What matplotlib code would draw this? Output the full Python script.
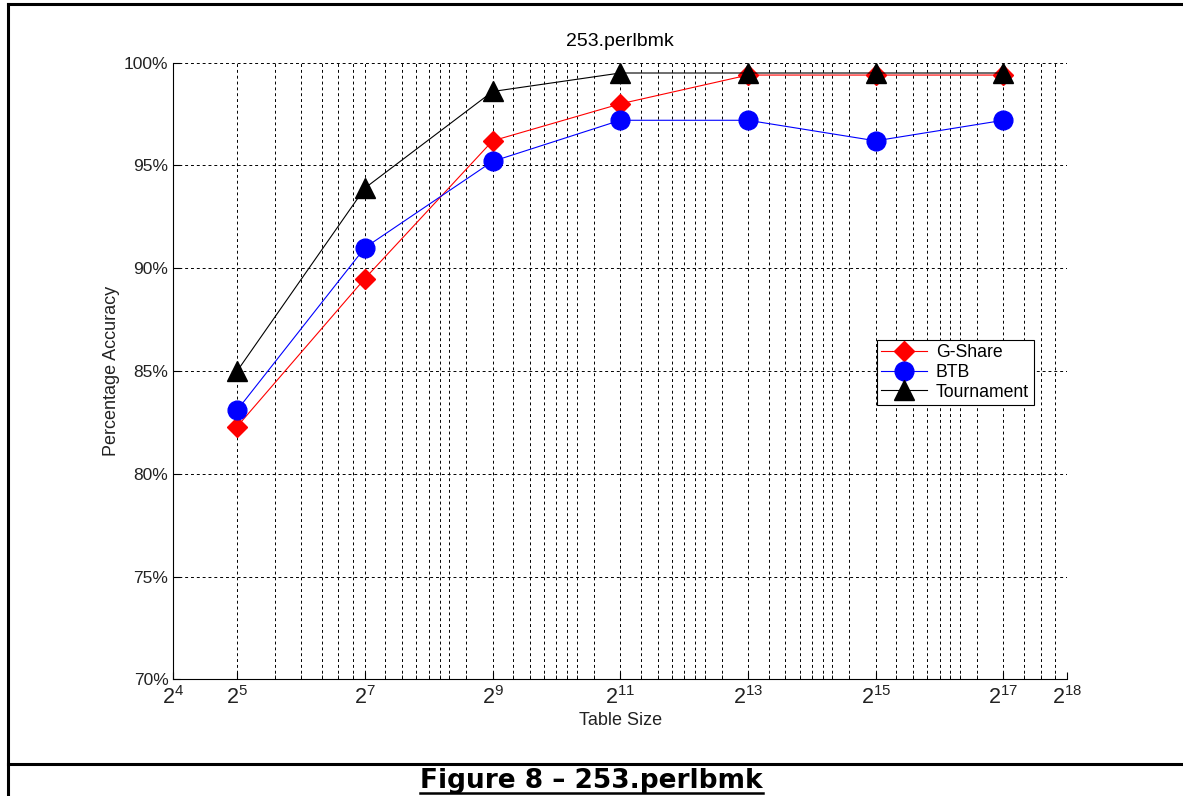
import matplotlib
matplotlib.use('Agg')
import matplotlib.pyplot as plt
from matplotlib.lines import Line2D

plt.rcParams['font.family'] = ['Liberation Sans', 'DejaVu Sans']
plt.rcParams['mathtext.fontset'] = 'custom'
plt.rcParams['mathtext.rm'] = 'Liberation Sans'
plt.rcParams['mathtext.it'] = 'Liberation Sans'

# data
exponents = [5, 7, 9, 11, 13, 15, 17]
table_size = [2 ** e for e in exponents]
gshare = [82.3, 89.5, 96.2, 98.0, 99.4, 99.4, 99.4]
btb = [83.1, 91.0, 95.2, 97.2, 97.2, 96.2, 97.2]
tournament = [85.0, 93.9, 98.6, 99.5, 99.5, 99.5, 99.5]

tick_exp = [4, 5, 7, 9, 11, 13, 15, 17, 18]
y_ticks = [70, 75, 80, 85, 90, 95, 100]

fig = plt.figure(figsize=(11.83, 7.96), dpi=100)
ax = fig.add_axes([0.1465, 0.1466, 0.9022 - 0.1465, 0.9212 - 0.1466])

ax.plot(table_size, gshare, color='red', lw=0.8, marker='D', ms=10, label='G-Share')
ax.plot(table_size, btb, color='blue', lw=0.8, marker='o', ms=13.5, label='BTB')
ax.plot(table_size, tournament, color='black', lw=0.8, marker='^', ms=14, label='Tournament')

ax.set_xscale('log')
ax.set_xlim(2 ** 4, 2 ** 18)
ax.set_ylim(70, 100)

# minor grid positions as MATLAB drew them (in units of 2^4)
first = [2, 3, 4, 5, 6, 7]
period = [1, 1.25, 1.5, 1.75, 2, 2.25, 2.5, 3, 4, 5, 6, 7, 8, 9, 10, 12]
units = first + [8 * 16 ** k * m for k in range(3) for m in period]
minor = [16 * u for u in units if 16 * u < 2 ** 18]

ax.set_xticks([2 ** e for e in tick_exp])
ax.set_xticklabels(['$2^{%d}$' % e for e in tick_exp], fontsize=15.5)
ax.set_xticks(minor, minor=True)
ax.set_xticklabels([], minor=True)
ax.set_yticks(y_ticks)
ax.set_yticklabels(['%d%%' % v for v in y_ticks], fontsize=12.5)

gs = dict(color='black', linestyle=(0, (3, 3)), linewidth=0.7)
ax.grid(True, which='major', **gs)
ax.grid(True, which='minor', axis='x', **gs)
ax.tick_params(which='both', direction='in', colors='black', labelcolor='#222222')
ax.tick_params(which='major', length=5)
ax.tick_params(which='minor', length=3)
ax.tick_params(axis='x', pad=5)
ax.spines['top'].set_visible(False)
ax.spines['right'].set_visible(False)

ax.set_title('253.perlbmk', fontsize=14, pad=12)
ax.set_xlabel('Table Size', fontsize=13, labelpad=2, color='#222222')
ax.set_ylabel('Percentage Accuracy', fontsize=13, labelpad=3, color='#222222')

leg = ax.legend(loc='lower left', bbox_to_anchor=(0.787, 0.445), fontsize=12.7,
                fancybox=False, framealpha=1, edgecolor='black',
                borderpad=0.25, labelspacing=0.15, handlelength=2.6, handletextpad=0.5,
                borderaxespad=0)
leg.get_frame().set_linewidth(0.8)

# page frame and caption cell
W, H = 1183, 796
def px_line(x0, y0, x1, y1, lw=2.2):
    fig.add_artist(Line2D([x0 / W, x1 / W], [1 - y0 / H, 1 - y1 / H],
                          transform=fig.transFigure, color='black', lw=lw))

px_line(8, 4, 1183, 4)
px_line(8, 4, 8, 796)
px_line(8, 764, 1183, 764)

cap = fig.text(0.5, 1 - 780.5 / H, 'Figure 8 \u2013 253.perlbmk', ha='center', va='center',
               fontsize=19, fontweight='bold', family='DejaVu Sans')
fig.canvas.draw()
bb = cap.get_window_extent(fig.canvas.get_renderer())
uy = bb.y0 + 1
fig.add_artist(Line2D([bb.x0 / W, bb.x1 / W], [uy / H, uy / H],
                      transform=fig.transFigure, color='black', lw=1.8))

fig.savefig('out.png', dpi=100)
